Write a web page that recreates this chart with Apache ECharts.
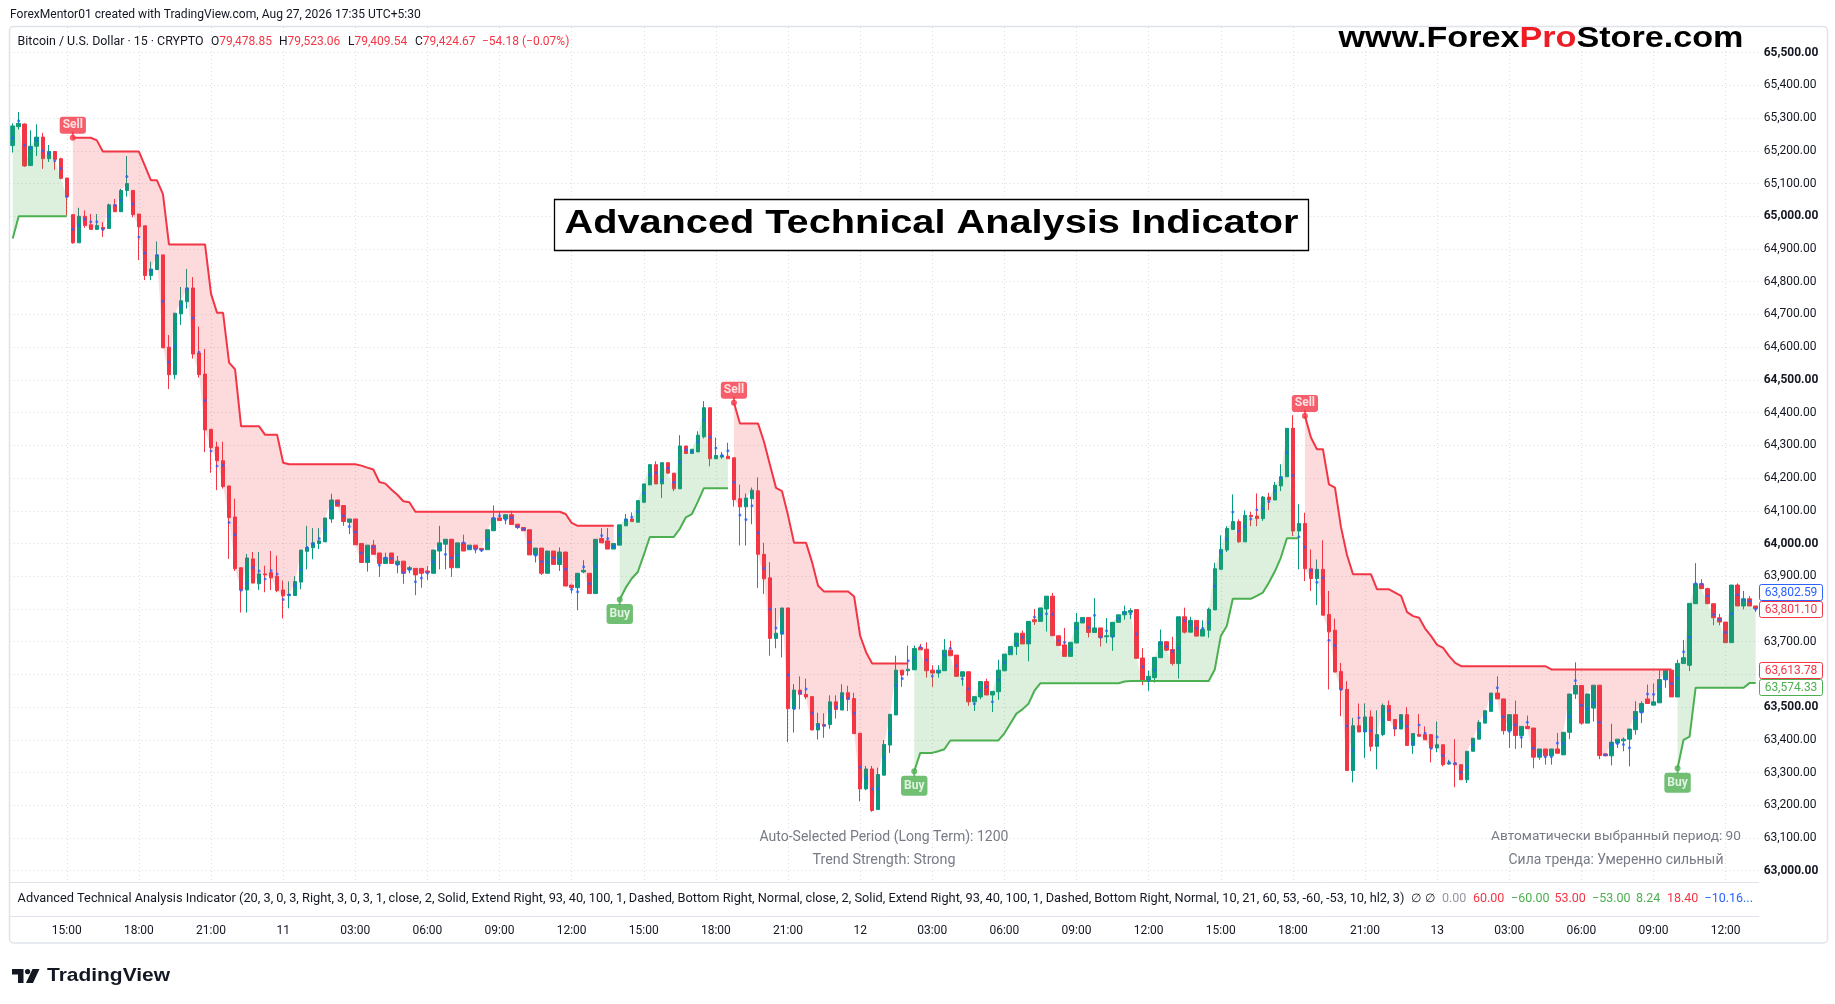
<!DOCTYPE html>
<html>
<head>
<meta charset="utf-8">
<title>Advanced Technical Analysis Indicator</title>
<script src="https://cdn.jsdelivr.net/npm/echarts@6/dist/echarts.min.js"></script>
<style>
html, body { margin:0; padding:0; background:#ffffff; }
#chart { width:1835px; height:1004px; }
</style>
</head>
<body>
<div id="chart"></div>
<script>
const _ = null;

// ---------------- data (BTC/USD 15m) ----------------
const openP = [
65216,65274,65282,65155,65214,65242,65176,65198,65176,65117,
65005,64919,65000,64974,64960,64966,64963,65035,65014,65079,
65079,65007,64971,64819,64837,64882,64600,64516,64702,64739,
64781,64582,64518,64349,64295,64253,64176,64081,63926,63858,
63953,63877,63907,63911,63900,63858,63841,63841,63882,63976,
63987,64000,64005,64075,64133,64116,64065,64075,64000,63942,
63995,63971,63939,63971,63936,63946,63921,63924,63924,63916,
63909,63977,63998,64013,63926,64002,63981,63995,63985,63981,
64039,64078,64075,64088,64059,64049,64042,63965,63986,63909,
63977,63936,63974,63873,63865,63913,63909,63847,64015,64008,
63983,63995,64054,64075,64065,64126,64179,64241,64182,64247,
64215,64167,64298,64275,64280,64326,64415,64259,64264,64267,
64262,64137,64112,64137,64161,63967,63895,63710,63723,63803,
63495,63552,63539,63532,63430,63447,63447,63516,63491,63544,
63526,63420,63250,63311,63187,63292,63384,63476,63613,63611,
63614,63682,63677,63613,63604,63611,63674,63659,63594,63608,
63516,63531,63578,63537,63547,63611,63660,63685,63726,63693,
63767,63762,63800,63839,63718,63690,63655,63696,63757,63774,
63728,63742,63715,63715,63759,63782,63790,63798,63650,63580,
63590,63651,63700,63676,63633,63776,63729,63765,63717,63735,
63797,63921,63980,64043,64067,64005,64086,64084,64076,64142,
64133,64176,64204,64352,64038,64061,63923,63893,63921,63783,
63735,63609,63554,63306,63443,63424,63470,63380,63416,63505,
63462,63433,63477,63383,63416,63416,63416,63375,63385,63326,
63329,63324,63278,63365,63402,63451,63487,63543,63525,63428,
63477,63413,63441,63436,63347,63372,63351,63372,63354,63423,
63540,63566,63451,63497,63567,63357,63351,63390,63397,63402,
63431,63484,63525,63506,63513,63584,63613,63531,63633,63628,
63816,63877,63862,63816,63773,63760,63697,63873,63809,63831,
63809
];
const highP = [
65284,65319,65284,65263,65281,65255,65218,65198,65179,65117,
65005,65026,65018,65007,65007,64982,65039,65053,65084,65184,
65079,65007,64971,64861,64923,64882,64637,64704,64784,64839,
64814,64663,64595,64349,64311,64311,64176,64137,63926,63968,
63974,63974,63932,63977,63963,63887,63884,63900,63980,64054,
64047,64047,64078,64152,64133,64116,64075,64075,64000,63995,
64011,63971,63972,63971,63962,63946,63931,63924,63924,63931,
63980,64054,64013,64013,64002,64027,63995,63995,63985,64042,
64116,64100,64088,64100,64059,64049,64042,63986,63986,63977,
63977,63988,63974,63873,63909,63949,63909,64013,64047,64047,
64000,64057,64090,64095,64131,64182,64241,64251,64247,64247,
64215,64331,64298,64288,64343,64435,64415,64324,64280,64308,
64262,64180,64153,64171,64202,64002,63943,63803,63803,63803,
63570,63594,63587,63532,63483,63481,63536,63536,63570,63565,
63544,63420,63320,63320,63315,63399,63478,63657,63613,63688,
63688,63693,63698,63628,63628,63708,63703,63659,63608,63608,
63532,63578,63587,63548,63645,63662,63685,63726,63734,63762,
63800,63803,63839,63849,63718,63742,63698,63788,63774,63774,
63833,63742,63772,63759,63782,63810,63802,63798,63680,63612,
63652,63737,63700,63715,63776,63804,63776,63765,63765,63804,
63941,64025,64053,64150,64074,64101,64097,64153,64145,64155,
64188,64242,64352,64392,64120,64094,63982,63951,64010,63855,
63770,63635,63579,63467,63511,63511,63490,63490,63511,63520,
63462,63479,63500,63419,63479,63441,63416,63456,63385,63339,
63402,63324,63365,63405,63460,63489,63543,63594,63525,63477,
63520,63441,63474,63436,63372,63372,63372,63421,63423,63540,
63637,63566,63540,63567,63567,63357,63449,63402,63407,63433,
63518,63518,63569,63572,63613,63613,63613,63645,63705,63817,
63940,63891,63865,63816,63785,63760,63873,63878,63855,63839,
63809
];
const lowP = [
65195,65265,65151,65155,65184,65145,65166,65142,65113,65003,
64916,64919,64965,64960,64960,64937,64963,65014,65014,65060,
64997,64866,64805,64805,64837,64598,64472,64502,64668,64718,
64565,64507,64279,64216,64163,64168,63953,63916,63789,63789,
63879,63858,63851,63858,63851,63771,63802,63841,63860,63921,
63952,63983,64005,64063,64114,64054,64029,63996,63942,63914,
63967,63898,63939,63939,63909,63877,63909,63842,63865,63888,
63909,63921,63921,63898,63926,63977,63981,63970,63974,63981,
64039,64070,64059,64058,64044,64039,63965,63942,63904,63909,
63936,63916,63870,63847,63796,63909,63847,63847,64002,63983,
63983,63995,64054,64067,64065,64126,64179,64182,64139,64215,
64160,64167,64275,64275,64280,64321,64236,64259,64259,64259,
64113,63994,63994,64059,63864,63846,63657,63680,63652,63393,
63422,63493,63524,63430,63401,63406,63434,63465,63491,63488,
63419,63212,63246,63180,63187,63292,63360,63476,63562,63596,
63614,63675,63590,63562,63590,63611,63657,63594,63565,63504,
63488,63524,63537,63485,63522,63611,63660,63659,63693,63640,
63751,63762,63731,63718,63688,63655,63655,63696,63757,63713,
63728,63685,63695,63672,63759,63767,63769,63649,63567,63550,
63575,63651,63671,63627,63587,63725,63729,63717,63717,63712,
63797,63921,63974,64043,64002,64005,64053,64053,64069,64102,
64133,64160,64204,64023,63921,63885,63855,63812,63781,63554,
63607,63472,63306,63270,63424,63344,63365,63310,63411,63459,
63411,63433,63383,63357,63411,63400,63331,63362,63319,63324,
63255,63278,63268,63365,63402,63451,63487,63525,63416,63375,
63372,63375,63434,63313,63339,63324,63324,63359,63354,63402,
63525,63446,63451,63456,63341,63351,63322,63375,63365,63319,
63416,63451,63511,63506,63513,63559,63531,63531,63633,63610,
63816,63862,63816,63750,63750,63697,63697,63809,63799,63809,
63791
];
const closeP = [
65276,65284,65154,65214,65242,65176,65198,65174,65116,65060,
64919,65000,64972,64960,64972,64961,65035,65014,65079,65100,
65005,64968,64819,64839,64882,64598,64516,64704,64742,64781,
64579,64516,64347,64293,64253,64174,64079,63923,63858,63956,
63879,63907,63904,63895,63856,63840,63844,63884,63980,63988,
64002,64008,64078,64133,64114,64067,64075,63996,63942,63995,
63967,63939,63957,63939,63946,63909,63926,63904,63909,63911,
63980,64002,64013,63926,64002,63977,63995,63983,63980,64042,
64078,64070,64088,64058,64049,64039,63965,63986,63909,63977,
63936,63974,63870,63865,63909,63918,63847,64013,64002,63983,
64000,64057,64075,64067,64131,64182,64241,64182,64247,64215,
64167,64298,64275,64288,64331,64415,64259,64269,64269,64259,
64134,64112,64139,64163,63967,63892,63710,63726,63803,63495,
63552,63539,63531,63430,63450,63442,63516,63493,63544,63524,
63419,63250,63311,63184,63294,63386,63478,63613,63598,63616,
63679,63675,63611,63604,63613,63674,63657,63594,63608,63516,
63532,63578,63537,63548,63613,63662,63685,63726,63693,63762,
63761,63803,63839,63718,63688,63655,63698,63759,63774,63728,
63742,63713,63718,63759,63782,63792,63795,63649,63580,63594,
63652,63700,63674,63633,63776,63729,63765,63717,63737,63799,
63923,63982,64046,64067,64005,64086,64082,64076,64142,64133,
64178,64204,64352,64038,64061,63923,63893,63921,63781,63730,
63607,63554,63306,63443,63424,63470,63380,63416,63505,63459,
63433,63477,63383,63419,63411,63400,63375,63385,63324,63329,
63324,63278,63365,63405,63453,63489,63543,63525,63428,63477,
63413,63441,63434,63347,63372,63351,63372,63359,63423,63540,
63566,63451,63540,63567,63352,63351,63393,63402,63402,63433,
63487,63511,63511,63516,63584,63613,63531,63633,63651,63817,
63877,63862,63816,63773,63760,63697,63873,63809,63831,63809,
63801
];
// trailing trend line while bearish (red) and bullish (green)
const downLine = [
_,_,_,_,_,_,_,_,_,_,
65240,65240,65240,65240,65232,65198,65198,65198,65198,65198,
65198,65198,65154,65110,65110,65068,64914,64914,64914,64914,
64914,64914,64914,64763,64705,64705,64553,64532,64358,64358,
64358,64358,64332,64332,64332,64247,64242,64242,64242,64242,
64242,64242,64242,64242,64242,64242,64242,64242,64238,64232,
64226,64188,64183,64165,64149,64129,64126,64097,64097,64097,
64097,64097,64097,64097,64097,64097,64097,64097,64097,64097,
64097,64097,64097,64097,64097,64097,64097,64097,64097,64097,
64097,64097,64090,64063,64054,64054,64054,64054,64054,64054,
64054,_,_,_,_,_,_,_,_,_,
_,_,_,_,_,_,_,_,_,_,
64430,64367,64367,64367,64367,64311,64240,64170,64160,64086,
64002,64002,64002,63943,63871,63853,63853,63853,63853,63853,
63838,63718,63667,63633,63633,63633,63633,63633,63633,63633,
_,_,_,_,_,_,_,_,_,_,
_,_,_,_,_,_,_,_,_,_,
_,_,_,_,_,_,_,_,_,_,
_,_,_,_,_,_,_,_,_,_,
_,_,_,_,_,_,_,_,_,_,
_,_,_,_,_,_,_,_,_,_,
_,_,_,_,_,64390,64324,64288,64288,64181,
64171,64050,63965,63906,63906,63906,63906,63860,63860,63860,
63850,63840,63790,63778,63773,63740,63717,63690,63681,63656,
63635,63625,63625,63625,63625,63625,63625,63625,63625,63625,
63625,63625,63625,63625,63625,63625,63615,63615,63615,63615,
63615,63615,63615,63615,63615,63615,63615,63615,63615,63615,
63615,63615,63615,63615,63615,63615,63615,_,_,_,
_,_,_,_,_,_,_,_,_,_,
_
];
const upLine = [
64932,65000,65000,65000,65000,65000,65000,65000,65000,65000,
_,_,_,_,_,_,_,_,_,_,
_,_,_,_,_,_,_,_,_,_,
_,_,_,_,_,_,_,_,_,_,
_,_,_,_,_,_,_,_,_,_,
_,_,_,_,_,_,_,_,_,_,
_,_,_,_,_,_,_,_,_,_,
_,_,_,_,_,_,_,_,_,_,
_,_,_,_,_,_,_,_,_,_,
_,_,_,_,_,_,_,_,_,_,
_,63829,63865,63893,63913,63965,64020,64020,64020,64020,
64020,64045,64080,64090,64128,64169,64169,64169,64169,64169,
_,_,_,_,_,_,_,_,_,_,
_,_,_,_,_,_,_,_,_,_,
_,_,_,_,_,_,_,_,_,_,
63304,63360,63360,63360,63365,63371,63398,63398,63398,63398,
63398,63398,63398,63398,63398,63420,63450,63480,63493,63510,
63550,63573,63573,63573,63573,63573,63573,63573,63573,63573,
63573,63573,63573,63573,63573,63578,63580,63580,63580,63580,
63580,63580,63580,63580,63580,63580,63580,63580,63580,63580,
63615,63717,63748,63831,63831,63831,63831,63840,63850,63880,
63915,63957,64016,64016,64016,_,_,_,_,_,
_,_,_,_,_,_,_,_,_,_,
_,_,_,_,_,_,_,_,_,_,
_,_,_,_,_,_,_,_,_,_,
_,_,_,_,_,_,_,_,_,_,
_,_,_,_,_,_,_,_,_,_,
_,_,_,_,_,_,_,63313,63400,63410,
63559,63559,63559,63559,63559,63559,63559,63559,63559,63574,
63574
];
const sellIdx = [10, 120, 215];
const buyIdx = [101, 150, 277];

// time axis
const startDay = 10, startMinute = 12 * 60 + 45, barMinutes = 15;
const xTickLabels = ['15:00','18:00','21:00','11','03:00','06:00','09:00','12:00',
  '15:00','18:00','21:00','12','03:00','06:00','09:00','12:00',
  '15:00','18:00','21:00','13','03:00','06:00','09:00','12:00'];
const firstTickIndex = 9, ticksEvery = 12;

// price scale
const priceMin = 63000, priceMax = 65500, priceStep = 100;

// right-scale value tags
const tagPrices = [63802.59, 63801.10, 63613.78, 63574.33];
const tagColors = ['#2962ff', '#f23645', '#f23645', '#4caf50'];
const tagOrder = [1, 2, 0, 3];

// texts
const headerText = 'ForexMentor01 created with TradingView.com, Aug 27, 2026 17:35 UTC+5:30';
const symbolText = 'Bitcoin / U.S. Dollar \u00b7 15 \u00b7 CRYPTO';
const ohlcLetters = ['O', 'H', 'L', 'C'];
const ohlcValues = ['79,478.85', '79,523.06', '79,409.54', '79,424.67'];
const changeText = '\u221254.18 (\u22120.07%)';
const titleText = 'Advanced Technical Analysis Indicator';
const studyText = 'Advanced Technical Analysis Indicator (20, 3, 0, 3, Right, 3, 0, 3, 1, close, 2, Solid, Extend Right, 93, 40, 100, 1, Dashed, Bottom Right, Normal, close, 2, Solid, Extend Right, 93, 40, 100, 1, Dashed, Bottom Right, Normal, 10, 21, 60, 53, -60, -53, 10, hl2, 3)';
const studyValues = ['0.00', '60.00', '\u221260.00', '53.00', '\u221253.00', '8.24', '18.40', '\u221210.16...'];
const studyValueColors = ['#9598a1', '#f23645', '#4caf50', '#f23645', '#4caf50', '#4caf50', '#f23645', '#2962ff'];
const infoLeft = ['Auto-Selected Period (Long Term): 1200', 'Trend Strength: Strong'];
const infoRight = ['\u0410\u0432\u0442\u043e\u043c\u0430\u0442\u0438\u0447\u0435\u0441\u043a\u0438 \u0432\u044b\u0431\u0440\u0430\u043d\u043d\u044b\u0439 \u043f\u0435\u0440\u0438\u043e\u0434: 90', '\u0421\u0438\u043b\u0430 \u0442\u0440\u0435\u043d\u0434\u0430: \u0423\u043c\u0435\u0440\u0435\u043d\u043d\u043e \u0441\u0438\u043b\u044c\u043d\u044b\u0439'];

// ---------------- layout ----------------
const W = 1835, H = 1004;
const PL = 9.7, PW = 1749;          // plot left / width
const PTOP = 52.7, PH = 818;        // 65,500 .. 63,000
const PANE_TOP = 27, PANE_BOT = 882;
const N = closeP.length;
const band = PW / N;
const F = 'Roboto, "Noto Sans", sans-serif';
const TXT = '#131722', RED = '#f23645', GREEN = '#4caf50', UPC = '#089981';

function pad(n) { return (n < 10 ? '0' : '') + n; }
const categories = closeP.map((c, i) => {
  const t = startMinute + i * barMinutes;
  const d = startDay + Math.floor(t / 1440), m = t % 1440;
  return 'Aug ' + d + ' ' + pad(Math.floor(m / 60)) + ':' + pad(m % 60);
});
const isTick = (idx) => idx >= firstTickIndex && (idx - firstTickIndex) % ticksEvery === 0;

const candles = openP.map((o, i) => [o, closeP[i], lowP[i], highP[i]]);
const mids = highP.map((h, i) => (h + lowP[i]) / 2);
const downBase = downLine.map((v, i) => v == null ? null : closeP[i]);
const downGap = downLine.map((v, i) => v == null ? null : v - closeP[i]);
const upBase = upLine.map(v => v);
const upGap = upLine.map((v, i) => v == null ? null : closeP[i] - v);

function fmtPrice(v) {
  return v.toLocaleString('en-US', { minimumFractionDigits: 2, maximumFractionDigits: 2 });
}

const chart = echarts.init(document.getElementById('chart'), null, { renderer: 'canvas', width: W, height: H });

function signalSeries(name, idx, line, color, pos) {
  const up = pos === 'top';
  return [
    { // small stem joining the tag to the line
      type: 'scatter', name: name + 'Stem', data: idx.map(i => [i, line[i]]), symbol: 'rect',
      symbolSize: [2, 5], symbolOffset: [0, up ? -3.5 : 3], itemStyle: { color: color }, silent: true, z: 6
    },
    {
      type: 'scatter', name: name, data: idx.map(i => [i, line[i]]), symbol: 'circle', symbolSize: 6,
      itemStyle: { color: color }, silent: true, z: 7,
      label: {
        show: true, position: pos, distance: up ? 1 : 1.5, formatter: name, color: '#ffffff',
        backgroundColor: color, borderRadius: 3, padding: up ? [2, 3, 2, 3] : [3, 3, 3, 3],
        fontSize: 12, fontWeight: 'bold', fontFamily: F, lineHeight: up ? 13 : 14
      }
    }
  ];
}

const option = {
  animation: false,
  backgroundColor: '#ffffff',
  textStyle: { fontFamily: F },
  grid: [
    { left: PL, width: PW, top: PTOP, height: PH },
    { left: PL + band / 2, width: PW - band, top: PANE_TOP, height: PANE_BOT - PANE_TOP }
  ],
  xAxis: [
    { type: 'category', gridIndex: 0, data: categories, boundaryGap: true, show: false },
    {
      type: 'category', gridIndex: 1, data: categories, boundaryGap: false,
      axisLine: { show: false }, axisTick: { show: false },
      axisLabel: {
        interval: (idx) => isTick(idx),
        formatter: (val, idx) => xTickLabels[(idx - firstTickIndex) / ticksEvery] || '',
        margin: 43, color: TXT, fontSize: 12, fontFamily: F
      },
      splitLine: { show: true, interval: (idx) => isTick(idx), lineStyle: { color: '#d9dce3', width: 1, type: [1, 3] } }
    }
  ],
  yAxis: [
    {
      type: 'value', gridIndex: 0, position: 'right', min: priceMin, max: priceMax, interval: priceStep,
      axisLine: { show: false }, axisTick: { show: false },
      axisLabel: {
        margin: 5, color: TXT, fontSize: 12, fontFamily: F,
        formatter: (v) => (v % 500 === 0 ? '{b|' + fmtPrice(v) + '}' : fmtPrice(v)),
        rich: { b: { fontWeight: 'bold', fontSize: 12, color: TXT, fontFamily: F } }
      },
      splitLine: { show: true, lineStyle: { color: '#d9dce3', width: 1, type: [1, 3] } }
    },
    { type: 'value', gridIndex: 1, show: false, min: 0, max: 1, splitLine: { show: false } }
  ],
  series: [
    {
      type: 'candlestick', name: 'BTCUSD', xAxisIndex: 0, yAxisIndex: 0, data: candles, barWidth: 4,
      itemStyle: { color: UPC, color0: RED, borderColor: UPC, borderColor0: RED, borderWidth: 1 },
      z: 2, silent: true
    },
    {
      type: 'line', name: 'dnBase', data: downBase, stack: 'dn', stackStrategy: 'all',
      symbol: 'none', lineStyle: { opacity: 0 }, silent: true, z: 3
    },
    {
      type: 'line', name: 'dnFill', data: downGap, stack: 'dn', stackStrategy: 'all',
      symbol: 'none', lineStyle: { opacity: 0 }, areaStyle: { color: 'rgba(242,54,69,0.18)', opacity: 1 }, silent: true, z: 3
    },
    {
      type: 'line', name: 'upBase', data: upBase, stack: 'up', stackStrategy: 'all',
      symbol: 'none', lineStyle: { opacity: 0 }, silent: true, z: 3
    },
    {
      type: 'line', name: 'upFill', data: upGap, stack: 'up', stackStrategy: 'all',
      symbol: 'none', lineStyle: { opacity: 0 }, areaStyle: { color: 'rgba(76,175,80,0.19)', opacity: 1 }, silent: true, z: 3
    },
    {
      type: 'line', name: 'downTrend', data: downLine, symbol: 'none', connectNulls: false,
      lineStyle: { color: RED, width: 2 }, silent: true, z: 4
    },
    {
      type: 'line', name: 'upTrend', data: upLine, symbol: 'none', connectNulls: false,
      lineStyle: { color: GREEN, width: 2 }, silent: true, z: 4
    },
    {
      type: 'scatter', name: 'hl2', data: mids, symbol: 'circle', symbolSize: 3,
      itemStyle: { color: '#2962ff' }, silent: true, z: 5
    }
  ].concat(signalSeries('Sell', sellIdx, downLine, RED, 'top'))
   .concat(signalSeries('Buy', buyIdx, upLine, GREEN, 'bottom'))
};
chart.setOption(option);

// ---------------- decorations (text, frame, tags) ----------------
const mctx = document.createElement('canvas').getContext('2d');
function tw(text, font) { mctx.font = font; return mctx.measureText(text).width; }
function txt(x, y, text, font, fill, align, extra) {
  const el = {
    type: 'text', x: x, y: y, z: 50, silent: true,
    style: { text: text, font: font, fill: fill, align: align || 'left', textAlign: align || 'left',
      verticalAlign: 'middle', textVerticalAlign: 'middle' }
  };
  if (extra) Object.assign(el, extra);
  return el;
}
function fitSize(text, weight, target, maxSize) {
  const s = 12 * target / tw(text, weight + '12px ' + F);
  return Math.min(maxSize, s).toFixed(2) + 'px ' + F;
}
const G = [];

// chart frame and pane separators
G.push({ type: 'rect', z: 40, silent: true, shape: { x: 9.5, y: 26.5, width: 1818, height: 916.5, r: 4 },
  style: { fill: 'none', stroke: '#e0e3eb', lineWidth: 1.5 } });
G.push({ type: 'line', z: 40, silent: true, shape: { x1: 9.5, y1: 882.5, x2: 1759, y2: 882.5 }, style: { stroke: '#e0e3eb', lineWidth: 1 } });
G.push({ type: 'line', z: 40, silent: true, shape: { x1: 9.5, y1: 916.5, x2: 1759, y2: 916.5 }, style: { stroke: '#e0e3eb', lineWidth: 1 } });

// header
G.push(txt(10, 15, headerText, fitSize(headerText, '', 411, 13), TXT));
// symbol legend
const LF = '12px ' + F;
G.push(txt(17.6, 42, symbolText, fitSize(symbolText, '', 186, 13), TXT));
const ohlcX = [211, 279, 348, 415];
ohlcLetters.forEach((l, k) => {
  G.push(txt(ohlcX[k], 42, l, LF, TXT));
  G.push(txt(ohlcX[k] + tw(l, LF), 42, ohlcValues[k], LF, RED));
});
G.push(txt(482, 42, changeText, LF, RED));

// site watermark (three coloured parts)
(function () {
  const f = 'bold 29px "Liberation Sans", Arial, sans-serif';
  const parts = ['www.Forex', 'Pro', 'Store.com'];
  const cols = ['#000000', '#ee1c25', '#000000'];
  const raw = parts.reduce((s, p) => s + tw(p, f), 0);
  const target = 405, sx = target / raw;
  let x = 1541 - target / 2;
  parts.forEach((p, k) => {
    G.push(txt(x, 38.5, p, f, cols[k], 'left', { scaleX: sx, scaleY: 1 }));
    x += tw(p, f) * sx;
  });
})();

// title box
(function () {
  const f = 'bold 34px "Liberation Sans", Arial, sans-serif';
  const sx = 734 / tw(titleText, f);
  G.push({ type: 'rect', z: 45, silent: true, shape: { x: 554.5, y: 199.5, width: 754, height: 51 },
    style: { fill: '#ffffff', stroke: '#000000', lineWidth: 1.3 } });
  const w = tw(titleText, f) * sx;
  G.push(txt(931.5 - w / 2, 224, titleText, f, '#000000', 'left', { scaleX: sx, scaleY: 1, z: 46 }));
})();

// info texts inside the pane
G.push(txt(884, 837, infoLeft[0], fitSize(infoLeft[0], '', 249, 15), '#787b86', 'center'));
G.push(txt(884, 860.6, infoLeft[1], fitSize(infoLeft[1], '', 143, 15), '#787b86', 'center'));
G.push(txt(1616, 837, infoRight[0], fitSize(infoRight[0], '', 250, 15), '#787b86', 'center'));
G.push(txt(1616, 860.6, infoRight[1], fitSize(infoRight[1], '', 215, 15), '#787b86', 'center'));

// study legend row
(function () {
  G.push(txt(17.6, 899, studyText, fitSize(studyText, '', 1388, 13), TXT));
  G.push(txt(1411, 899, '\u2205', '12px ' + F, TXT));
  G.push(txt(1425, 899, '\u2205', '12px ' + F, TXT));
  const xs = [1442, 1473, 1511, 1554.5, 1592, 1636, 1667, 1704.5];
  studyValues.forEach((v, k) => G.push(txt(xs[k], 899, v, '12.5px ' + F, studyValueColors[k])));
})();

// TradingView logo
G.push({ type: 'polygon', z: 50, silent: true, shape: { points: [[12, 969], [23.5, 969], [23.5, 983], [18, 983], [18, 974.5], [12, 974.5]] }, style: { fill: '#131722' } });
G.push({ type: 'circle', z: 50, silent: true, shape: { cx: 27.6, cy: 971.6, r: 2.6 }, style: { fill: '#131722' } });
G.push({ type: 'polygon', z: 50, silent: true, shape: { points: [[32.5, 969], [39.5, 969], [33, 983], [26, 983]] }, style: { fill: '#131722' } });
(function () {
  const f = 'bold 19px "Liberation Sans", Arial, sans-serif';
  const sx = 123 / tw('TradingView', f);
  G.push(txt(47, 976, 'TradingView', f, '#131722', 'left', { scaleX: sx, scaleY: 1 }));
})();

// right-scale value tags, positioned through the price axis
(function () {
  const placed = [];
  tagOrder.forEach(k => {
    let y = chart.convertToPixel({ yAxisIndex: 0 }, tagPrices[k]);
    placed.forEach(p => {
      if (Math.abs(y - p.y) < 17) y = tagPrices[k] > p.price ? p.y - 17 : p.y + 17;
    });
    placed.push({ y: y, price: tagPrices[k] });
    G.push({ type: 'rect', z: 55, silent: true, shape: { x: 1759.5, y: Math.round(y - 8) + 0.5, width: 63, height: 16, r: 2 },
      style: { fill: '#ffffff', stroke: tagColors[k], lineWidth: 1 } });
    G.push(txt(1791, Math.round(y) + 0.5, fmtPrice(tagPrices[k]), '12px ' + F, tagColors[k], 'center', { z: 56 }));
  });
})();

// sanity check of array lengths
[openP, highP, lowP, closeP, downLine, upLine].forEach((a, k) => {
  if (a.length !== N) G.push(txt(900, 500 + k * 20, 'length mismatch ' + k + ': ' + a.length, '16px ' + F, '#ff00ff'));
});

chart.setOption({ graphic: G });
</script>
</body>
</html>
